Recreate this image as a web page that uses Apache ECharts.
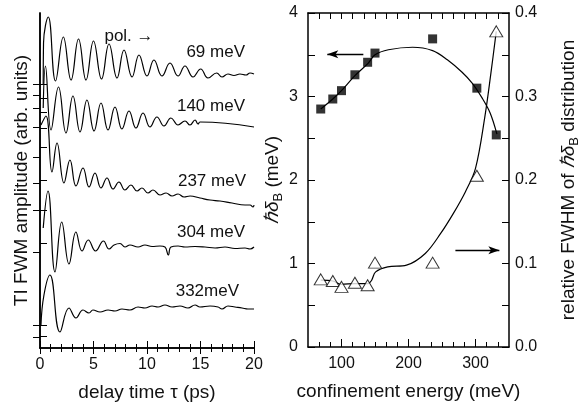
<!DOCTYPE html>
<html><head><meta charset="utf-8">
<script src="https://cdn.jsdelivr.net/npm/echarts@6/dist/echarts.min.js"></script>
<style>html,body{margin:0;padding:0;background:#fff}#c{width:582px;height:410px}</style>
</head><body><div id="c"></div>
<script>
// ---------- left panel: TI FWM traces (delay time in ps, amplitude in arb. units) ----------
const t69  = [0.30,0.33,0.78,1.45,2.18,2.90,3.60,4.30,5.00,5.75,6.45,7.20,7.85,8.60,9.25,10.00,10.65,11.40,12.15,12.90,13.55,14.30,15.02,15.70,16.51,17.01,17.57,18.13,18.69,19.25,19.63,20.00];
const a69  = [264,305,331,267,311,268,309,268,307,269,304,270,298,271,293,272,288,272,285,272,282,271,279,270,275,271,274,272.5,274,273,275,274];
const t140 = [0.30,0.51,1.03,1.73,2.43,3.08,3.74,4.39,5.05,5.70,6.36,7.01,7.66,8.32,8.97,9.63,10.28,10.93,11.59,12.24,12.90,13.55,14.02,14.49,14.77,14.95,20.00];
const a140 = [240,282,218,261,215,252,216,248,217,245,218,241,219,237,220,235,221,231,222,230,223,227,223,228,224,226,221];
const t237 = [0.09,0.56,1.12,1.59,2.24,2.80,3.36,4.02,4.58,5.14,5.70,6.26,6.82,7.38,7.94,8.50,9.07,9.53,10.09,10.56,11.21,11.78,12.34,12.90,13.46,14.02,14.95,15.89,16.82,17.94,19.16,19.63,19.91,20.00];
const a237 = [223,232,176,205,165,188,162,180,161,175,160,170,159,166,158,163,157,160,155,158,153,155,152,154,151,152,150,148,147,145,143,143,141,143];
const t304 = [0.30,0.75,1.40,2.03,2.71,3.36,3.93,4.51,5.19,5.93,6.45,6.92,7.48,7.94,8.41,9.16,9.81,10.47,11.21,11.68,11.99,12.24,12.90,13.55,14.49,15.42,16.36,17.29,18.22,19.16,19.63,20.00];
const a304 = [120,157,76,126,84,116,97,108,97,107,99,103,104.5,101,103,101,103,101.5,102,101,93,101,102,101,101.5,101,100,101,99.5,100,99,101];
const t332 = [0.09,0.37,0.93,1.87,2.71,3.36,4.02,4.58,4.95,5.61,6.36,7.01,7.66,8.41,9.16,9.81,10.47,11.03,11.68,12.34,13.08,13.83,14.49,14.95,15.89,16.64,17.01,17.57,18.22,18.88,19.44,20.00];
const a332 = [23,53,73,16,40,30,38,35,38,36,38,37,39,38,41,40,42,41,43,41,42,40,43,41,42,41,39,42,41,40,39,39];
const traceLabels = ['69 meV','140 meV','237 meV','304 meV','332meV'];
const leftTicks  = [264,250,236,220,201,168,138,105,23,12];
const rightTicks = [264,253,240,221,191,165,138,96,23,11];

// ---------- right panel ----------
const energy   = [69,87,100,120,139,150,236,302,331];
const deltaB   = [2.85,2.97,3.07,3.26,3.41,3.52,3.69,3.10,2.54];
const relFWHM  = [0.081,0.079,0.072,0.077,0.074,0.101,0.101,0.205,0.378];
const fitSqE   = [69,87,100,120,140,150,170,206,236,258,280,295,310,322,332];
const fitSqV   = [2.85,2.97,3.07,3.25,3.40,3.50,3.56,3.59,3.55,3.44,3.29,3.16,2.98,2.80,2.55];
const fitTriE  = [69,87,100,120,140,145,151,169,197,225,248,267,285,300,314,323,331];
const fitTriV  = [0.080,0.079,0.075,0.076,0.076,0.080,0.090,0.096,0.098,0.112,0.136,0.160,0.186,0.214,0.276,0.328,0.378];
const energyMajor = [100,200,300];
const energyMinor = [66.67,83.33,116.67,133.33,150,166.67,183.33,216.67,233.33,250,266.67,283.33,316.67,333.33];
const arrowLeft  = [[132.6,3.505],[78.8,3.505]];
const arrowRight = [[270,1.16],[335.6,1.16]];

const zip = (a,b) => a.map((v,i)=>[v,b[i]]);
const FONT = '"Liberation Sans", Arial, sans-serif';
const INK = '#111';
const axLine = {show:true, lineStyle:{color:'#000', width:1.5}};

const chart = echarts.init(document.getElementById('c'));
const traceSeries = [[t69,a69],[t140,a140],[t237,a237],[t304,a304],[t332,a332]].map(([t,a])=>({
  type:'line', xAxisIndex:0, yAxisIndex:0, data:zip(t,a), showSymbol:false, smooth:0.45,
  lineStyle:{color:'#000', width:1.2}, silent:true
}));

const labelY = [52,106,181,232,291];
const labelX = [245,245,246,245,239];
const richName = {h:{fontSize:19, fontStyle:'italic', color:INK, lineHeight:24, fontFamily:FONT},
                  s:{fontSize:13, color:INK, verticalAlign:'bottom', lineHeight:13, fontFamily:FONT}};

chart.setOption({
  animation:false,
  textStyle:{fontFamily:FONT},
  grid:[{left:40, top:13, width:214, height:335},{left:308, top:13, width:214, height:334}],
  xAxis:[
    {gridIndex:0, type:'value', min:0, max:20, interval:5, position:'bottom',
     axisLine:axLine, splitLine:{show:false},
     axisTick:{inside:true, length:7, lineStyle:{color:'#000'}},
     minorTick:{show:true, splitNumber:5, length:4, lineStyle:{color:'#000'}},
     axisLabel:{fontSize:16, color:INK, margin:9, fontFamily:FONT},
     name:'delay time τ (ps)', nameLocation:'middle', nameGap:35,
     nameTextStyle:{fontSize:19, color:INK, fontFamily:FONT}},
    {gridIndex:0, type:'value', min:0, max:20, interval:5, position:'top',
     axisLine:axLine, splitLine:{show:false},
     axisTick:{inside:true, length:6, lineStyle:{color:'#000'}},
     minorTick:{show:true, splitNumber:5, length:4, lineStyle:{color:'#000'}},
     axisLabel:{show:false}},
    {gridIndex:1, type:'value', min:50, max:350, position:'bottom',
     axisLine:axLine, splitLine:{show:false},
     axisTick:{inside:true, length:8, customValues:energyMajor, lineStyle:{color:'#000'}},
     axisLabel:{fontSize:16, color:INK, margin:9, customValues:energyMajor, fontFamily:FONT},
     name:'confinement energy (meV)', nameLocation:'middle', nameGap:35,
     nameTextStyle:{fontSize:19, color:INK, fontFamily:FONT}},
    {gridIndex:1, type:'value', min:50, max:350, position:'bottom',
     axisLine:{show:false}, splitLine:{show:false},
     axisTick:{inside:true, length:5, customValues:energyMinor, lineStyle:{color:'#000'}},
     axisLabel:{show:false}},
    {gridIndex:1, type:'value', min:50, max:350, position:'top',
     axisLine:axLine, splitLine:{show:false},
     axisTick:{inside:true, length:6, customValues:energyMajor.concat(energyMinor), lineStyle:{color:'#000'}},
     axisLabel:{show:false}}
  ],
  yAxis:[
    {gridIndex:0, type:'value', min:0, max:335, position:'left',
     axisLine:axLine, splitLine:{show:false},
     axisTick:{inside:true, length:7, customValues:leftTicks, lineStyle:{color:'#000'}},
     axisLabel:{show:false},
     name:'TI FWM amplitude (arb. units)', nameLocation:'middle', nameGap:9,
     nameTextStyle:{fontSize:19, color:INK, fontFamily:FONT}},
    {gridIndex:0, type:'value', min:0, max:335, position:'right',
     axisLine:axLine, splitLine:{show:false},
     axisTick:{inside:true, length:7, customValues:rightTicks, lineStyle:{color:'#000'}},
     axisLabel:{show:false}},
    {gridIndex:1, type:'value', min:0, max:4, interval:1, position:'left',
     axisLine:axLine, splitLine:{show:false},
     axisTick:{inside:true, length:7, lineStyle:{color:'#000'}},
     minorTick:{show:true, splitNumber:2, length:7, lineStyle:{color:'#000'}},
     axisLabel:{fontSize:16, color:INK, margin:10, fontFamily:FONT},
     name:'{h|ℏδ}{s|B} (meV)', nameLocation:'middle', nameGap:13,
     nameTextStyle:{fontSize:19, color:INK, fontFamily:FONT, rich:richName}},
    {gridIndex:1, type:'value', min:0, max:0.4, interval:0.1, position:'right',
     axisLine:axLine, splitLine:{show:false},
     axisTick:{inside:true, length:7, lineStyle:{color:'#000'}},
     minorTick:{show:true, splitNumber:2, length:7, lineStyle:{color:'#000'}},
     axisLabel:{fontSize:16, color:INK, margin:6, fontFamily:FONT, formatter:v=>v.toFixed(1)},
     name:'relative FWHM of {h|ℏδ}{s|B} distribution', nameLocation:'middle', nameGap:48,
     nameTextStyle:{fontSize:19, color:INK, fontFamily:FONT, rich:richName}}
  ],
  series: traceSeries.concat([
    {type:'line', xAxisIndex:2, yAxisIndex:2, data:zip(fitSqE,fitSqV), showSymbol:false, smooth:0.35,
     lineStyle:{color:'#000', width:1.2}, silent:true},
    {type:'line', xAxisIndex:2, yAxisIndex:3, data:zip(fitTriE,fitTriV), showSymbol:false, smooth:0.35,
     lineStyle:{color:'#000', width:1.2}, silent:true},
    {type:'scatter', xAxisIndex:2, yAxisIndex:2, data:zip(energy,deltaB), symbol:'rect', symbolSize:9,
     itemStyle:{color:'#000'}, silent:true, z:5,
     markLine:{silent:true, symbol:['none','arrow'], symbolSize:[6,11], label:{show:false},
       lineStyle:{color:'#000', width:1.3, type:'solid'},
       data:[[{coord:arrowLeft[0]},{coord:arrowLeft[1]}],[{coord:arrowRight[0]},{coord:arrowRight[1]}]]}},
    {type:'scatter', xAxisIndex:2, yAxisIndex:3, data:zip(energy,relFWHM), symbol:'triangle', symbolSize:[13,11],
     itemStyle:{color:'#fff', borderColor:'#000', borderWidth:1}, silent:true, z:6}
  ]),
  graphic: traceLabels.map((txt,i)=>({type:'text', x:labelX[i], y:labelY[i], silent:true,
      style:{text:txt, fill:INK, fontSize:17, fontFamily:FONT, align:'right', verticalAlign:'middle'}}))
    .concat([{type:'text', x:129, y:36, silent:true,
      style:{text:'pol. →', fill:INK, fontSize:17, fontFamily:FONT, align:'center', verticalAlign:'middle'}}])
});
</script></body></html>
